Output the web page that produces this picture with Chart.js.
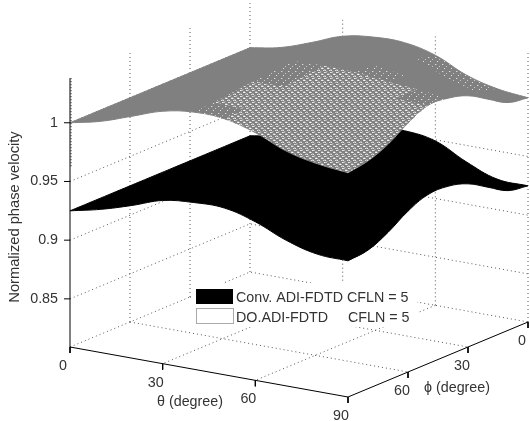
<!DOCTYPE html>
<html>
<head>
<meta charset="utf-8">
<title>Normalized phase velocity</title>
<script src="https://cdn.jsdelivr.net/npm/chart.js@4"></script>
<style>
body{margin:0;background:#fff;}
canvas{display:block;}
</style>
</head>
<body>
<canvas id="surfaceChart" width="530" height="421"></canvas>
<script>
// sample angles of both surfaces, in degrees
const thetaValues=[0,10,20,30,40,50,60,70,80,90];
const phiValues=[0,10,20,30,40,50,60,70,80,90];

// one row per theta, one column per phi
const doVelocity=[
[1.000,1.000,1.000,1.000,1.000,1.000,1.000,1.000,1.000,1.000],
[1.005,1.005,1.005,1.006,1.006,1.006,1.006,1.006,1.006,1.006],
[1.014,1.014,1.014,1.015,1.016,1.016,1.015,1.015,1.015,1.015],
[1.024,1.024,1.024,1.025,1.026,1.026,1.025,1.024,1.024,1.024],
[1.028,1.029,1.031,1.034,1.036,1.035,1.033,1.031,1.029,1.028],
[1.028,1.030,1.033,1.036,1.037,1.035,1.033,1.030,1.028,1.027],
[1.022,1.026,1.031,1.035,1.036,1.034,1.031,1.027,1.023,1.020],
[1.010,1.015,1.023,1.030,1.033,1.032,1.028,1.021,1.014,1.009],
[1.003,1.007,1.016,1.026,1.031,1.030,1.025,1.014,1.006,1.003],
[1.000,1.003,1.013,1.023,1.028,1.029,1.021,1.010,1.003,1.000]
];
const convVelocity=[
[0.925,0.925,0.925,0.925,0.925,0.925,0.925,0.925,0.925,0.925],
[0.930,0.930,0.930,0.931,0.931,0.931,0.931,0.931,0.931,0.931],
[0.939,0.939,0.939,0.940,0.941,0.941,0.940,0.940,0.939,0.939],
[0.948,0.948,0.949,0.950,0.951,0.951,0.950,0.949,0.948,0.948],
[0.952,0.952,0.954,0.955,0.956,0.956,0.955,0.954,0.952,0.951],
[0.953,0.954,0.956,0.957,0.959,0.959,0.957,0.956,0.953,0.951],
[0.949,0.950,0.952,0.957,0.959,0.960,0.957,0.952,0.947,0.944],
[0.936,0.938,0.944,0.951,0.957,0.957,0.953,0.945,0.937,0.933],
[0.926,0.931,0.939,0.949,0.955,0.956,0.950,0.939,0.930,0.926],
[0.925,0.928,0.938,0.948,0.953,0.953,0.946,0.935,0.927,0.925]
];

const zTicks=[0.85,0.9,0.95,1];
const zTickLabels=["0.85","0.9","0.95","1"];
const thetaTicks=[0,30,60,90];
const phiTicks=[0,30,60];
const legendLabels=["Conv. ADI-FDTD CFLN = 5","DO.ADI-FDTD     CFLN = 5"];

const zMin=0.809;
const zMax=1.038;

function project(theta,phi,z){
return {
x:250+theta*278/90-phi*180/90,
y:272+theta*50/90+phi*75/90-(z-zMin)*1174
};
}

function shifted(p,dx,dy){
return {x:p.x+dx,y:p.y+dy};
}

const datasets=[];

function addLine(points,color,width,dash){
datasets.push({
data:points,
showLine:true,
fill:false,
borderColor:color,
borderWidth:width,
borderDash:dash||[],
pointRadius:0,
tension:0,
clip:false,
order:-datasets.length
});
}

function addShape(points,fillColor,borderColor,tension){
datasets.push({
data:points,
showLine:true,
fill:"shape",
backgroundColor:fillColor,
borderColor:borderColor,
borderWidth:borderColor==="transparent"?0:1,
pointRadius:0,
tension:tension,
clip:false,
order:-datasets.length
});
}

function makePattern(size,pixels){
const tile=document.createElement("canvas");
tile.width=size;
tile.height=size;
const t=tile.getContext("2d");
pixels.forEach(p=>{
t.fillStyle=p[2];
t.fillRect(p[0],p[1],1,1);
});
return t.createPattern(tile,"repeat");
}

const denseMesh=makePattern(6,[
[0,0,"#eeeeee"],[1,0,"#d8d8d8"],[2,0,"#b4b4b4"],
[3,1,"#a0a0a0"],[4,1,"#acacac"],
[3,2,"#e8e8e8"],[4,2,"#f6f6f6"],[5,2,"#b8b8b8"],
[0,3,"#a8a8a8"],[1,3,"#989898"],
[5,4,"#e0e0e0"],[0,4,"#bcbcbc"],[1,4,"#e8e8e8"],
[2,5,"#a8a8a8"],[3,5,"#9c9c9c"]
]);
const sparseMesh=makePattern(7,[
[1,1,"#dcdcdc"],[2,1,"#a0a0a0"],
[5,3,"#c8c8c8"],
[3,5,"#e4e4e4"]
]);

function cellCorners(grid,i,j){
return [
project(thetaValues[i],phiValues[j],grid[i][j]),
project(thetaValues[i+1],phiValues[j],grid[i+1][j]),
project(thetaValues[i+1],phiValues[j+1],grid[i+1][j+1]),
project(thetaValues[i],phiValues[j+1],grid[i][j+1]),
project(thetaValues[i],phiValues[j],grid[i][j])
];
}

// outer edge of a surface, corners doubled so the curve stays sharp there
function outline(grid){
const last=thetaValues.length-1;
const lastPhi=phiValues.length-1;
const points=[];
for(let i=0;i<=last;i++){
points.push(project(thetaValues[i],phiValues[0],grid[i][0]));
}
for(let j=0;j<=lastPhi;j++){
points.push(project(thetaValues[last],phiValues[j],grid[last][j]));
}
for(let i=last;i>=0;i--){
points.push(project(thetaValues[i],phiValues[lastPhi],grid[i][lastPhi]));
}
for(let j=lastPhi;j>=0;j--){
points.push(project(thetaValues[0],phiValues[j],grid[0][j]));
}
return points;
}

// a mesh stretched on screen shows its holes, a squeezed one looks solid
function cellArea(c){
let a=0;
for(let k=0;k<4;k++){
a+=c[k].x*c[k+1].y-c[k+1].x*c[k].y;
}
return Math.abs(a)/2;
}

// back walls and floor
const gridColor="#555";
const dots=[1,3];
zTicks.forEach(z=>{
addLine([project(0,90,z),project(0,0,z),project(90,0,z)],gridColor,1,dots);
});
[0,30,60].forEach(phi=>{
addLine([project(0,phi,zMin),project(0,phi,zMax)],gridColor,1,dots);
});
[30,60,90].forEach(theta=>{
addLine([project(theta,0,zMin),project(theta,0,zMax)],gridColor,1,dots);
});
addLine([project(0,90,zMin),project(0,0,zMin),project(90,0,zMin)],gridColor,1,dots);
[30,60].forEach(theta=>{
addLine([project(theta,0,zMin),project(theta,90,zMin)],gridColor,1,dots);
});
[30,60].forEach(phi=>{
addLine([project(0,phi,zMin),project(90,phi,zMin)],gridColor,1,dots);
});

// Conv. ADI-FDTD surface
addShape(outline(convVelocity),"#000","#000",0.4);

// DO ADI-FDTD surface
addShape(outline(doVelocity),"#808080","#808080",0.4);
for(let i=0;i<thetaValues.length-1;i++){
for(let j=0;j<phiValues.length-1;j++){
const corners=cellCorners(doVelocity,i,j);
const area=cellArea(corners);
const fallsTowardFront=doVelocity[i][j+1]+doVelocity[i+1][j+1]<doVelocity[i][j]+doVelocity[i+1][j];
if(area>450&&fallsTowardFront){
addShape(corners,denseMesh,"transparent",0);
}else if(area>380){
addShape(corners,sparseMesh,"transparent",0);
}
}
}

// axes and tick marks
addLine([project(0,90,zMin),project(0,90,zMax)],"#000",1);
addLine([shifted(project(0,90,0.963),1,0),shifted(project(0,90,zMax),1,0)],"#000",1,[1,2]);
addLine([project(0,90,zMin),project(90,90,zMin),project(90,0,zMin)],"#000",1);
zTicks.forEach(z=>{
const p=project(0,90,z);
addLine([p,shifted(p,-6,0)],"#000",1);
});
thetaTicks.forEach(theta=>{
const p=project(theta,90,zMin);
addLine([p,shifted(p,0,6)],"#000",1);
});
phiTicks.forEach(phi=>{
const p=project(90,phi,zMin);
addLine([p,shifted(p,0,6)],"#000",1);
});

const textPlugin={
id:"textPlugin",
afterDatasetsDraw(chart){
const c=chart.ctx;
c.save();
c.font='14.3px "Liberation Sans", Arial, sans-serif';
c.textBaseline="middle";

// legend
c.fillStyle="#fff";
c.fillRect(191,283,226,44);
c.fillStyle="#000";
c.fillRect(196,289,37,15);
c.fillStyle="#fff";
c.strokeStyle="#aaa";
c.lineWidth=1;
c.fillRect(196,308,37,15);
c.strokeRect(196.5,308.5,37,15);
c.fillStyle="#333";
c.textAlign="left";
c.fillText(legendLabels[0],236,298);
c.fillText(legendLabels[1],236,318);

// z ticks
c.textAlign="right";
zTicks.forEach((z,i)=>{
const p=project(0,90,z);
c.fillText(zTickLabels[i],p.x-12,p.y);
});

// floor ticks
c.textAlign="center";
thetaTicks.forEach(theta=>{
const p=project(theta,90,zMin);
c.fillText(String(theta),p.x-7,p.y+19);
});
phiTicks.forEach(phi=>{
const p=project(90,phi,zMin);
c.fillText(String(phi),p.x-6,p.y+19);
});

// axis titles
c.fillText("θ (degree)",190,402);
c.fillText("ϕ (degree)",457,388);
c.translate(15,217);
c.rotate(-Math.PI/2);
c.font='14.7px "Liberation Sans", Arial, sans-serif';
c.fillText("Normalized phase velocity",0,0);
c.restore();
}
};

new Chart(document.getElementById("surfaceChart"),{
type:"scatter",
data:{datasets:datasets},
plugins:[textPlugin],
options:{
responsive:false,
animation:false,
events:[],
layout:{padding:0},
plugins:{
legend:{display:false},
tooltip:{enabled:false}
},
scales:{
x:{type:"linear",display:false,min:0,max:530},
y:{type:"linear",display:false,min:0,max:421,reverse:true}
}
}
});
</script>
</body>
</html>
